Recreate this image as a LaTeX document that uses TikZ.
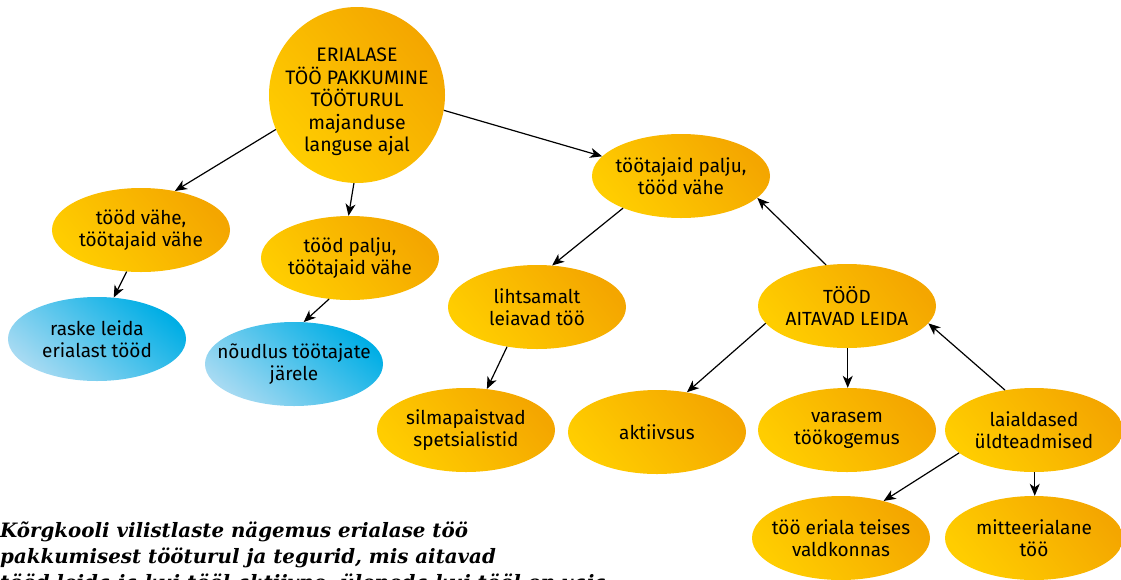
\documentclass[tikz,border=0pt]{standalone}
\usepackage{fontspec}
\setmainfont{Fira Sans}
\newfontfamily\capfont{DejaVu Serif}
\usetikzlibrary{shapes.geometric,arrows.meta}
\definecolor{yA}{HTML}{FFCD00}
\definecolor{yB}{HTML}{F4A600}
\definecolor{bA}{HTML}{A6DAF2}
\definecolor{bB}{HTML}{00AEE5}
\tikzset{
  bub/.style={ellipse, minimum width=178pt, minimum height=84pt, inner xsep=-40pt, inner ysep=-10pt,
    align=center, font=\fontsize{19}{22}\selectfont, text=black,
    shading=axis, top color=yB, bottom color=yA, shading angle=-50},
  blue/.style={bub, top color=bB, bottom color=bA, shading angle=-40},
  con/.style={line width=1.2pt, -{Stealth[length=12pt,width=10pt,inset=3.5pt]}}
}
\begin{document}
\begin{tikzpicture}[x=1pt,y=-1pt]
\useasboundingbox (0,0) rectangle (1121,579);
\node[circle, minimum size=176pt, inner sep=0pt, shading=axis, top color=yB, bottom color=yA, shading angle=-50]
  (c) at (357,95) {};
\node[align=center, font=\fontsize{19.5}{22.5}\selectfont] (ct) at (357,102) {ERIALASE\\TÖÖ PAKKUMINE\\TÖÖTURUL\\majanduse\\languse ajal};
\node[bub] (n2) at (141,230) {tööd vähe,\\töötajaid vähe};
\node[bub] (n3) at (350,258) {tööd palju,\\töötajaid vähe};
\node[bub] (n4) at (681,176) {töötajaid palju,\\tööd vähe};
\node[blue] (n5) at (97,339) {raske leida\\erialast tööd};
\node[blue] (n6) at (294,364) {nõudlus töötajate\\järele};
\node[bub] (n7) at (537,307) {lihtsamalt\\leiavad töö};
\node[bub] (n8) at (847,306) {TÖÖD\\AITAVAD LEIDA};
\node[bub] (n9) at (466,430) {silmapaistvad\\spetsialistid};
\node[bub] (n10) at (657,432) {aktiivsus};
\node[bub] (n11) at (847,430) {varasem\\töökogemus};
\node[bub] (n12) at (1034,430) {laialdased\\üldteadmised};
\node[bub] (n13) at (841,538) {töö eriala teises\\valdkonnas};
\node[bub] (n14) at (1034,538) {mitteerialane\\töö};

\draw[con] (c.203) -- (n2.49);
\draw[con] (c.-92) -- (n3.92);
\draw[con] (c.-10) -- (n4.166);
\draw[con] (n2.-109) -- (n5.68);
\draw[con] (n3.-117) -- (n6.77);
\draw[con] (n4.-151) -- (n7.70);
\draw[con] (n8.117) -- (n4.-16);
\draw[con] (n7.-127) -- (n9.63);
\draw[con] (n8.-168) -- (n10.53);
\draw[con] (n8.-89) -- (n11.89);
\draw[con] (n12.126) -- (n8.-12);
\draw[con] (n12.-163) -- (n13.41);
\draw[con] (n12.-89) -- (n14.89);

\node[anchor=base west, align=left, inner sep=0pt,
  font=\capfont\bfseries\itshape\fontsize{19.8}{26}\selectfont] (cap) at (0,589)
  {Kõrgkooli vilistlaste nägemus erialase töö\\
   pakkumisest tööturul ja tegurid, mis aitavad\\
   tööd leida ja kui tööl aktiivne, üleneda kui tööl on vaja};
\end{tikzpicture}
\end{document}
